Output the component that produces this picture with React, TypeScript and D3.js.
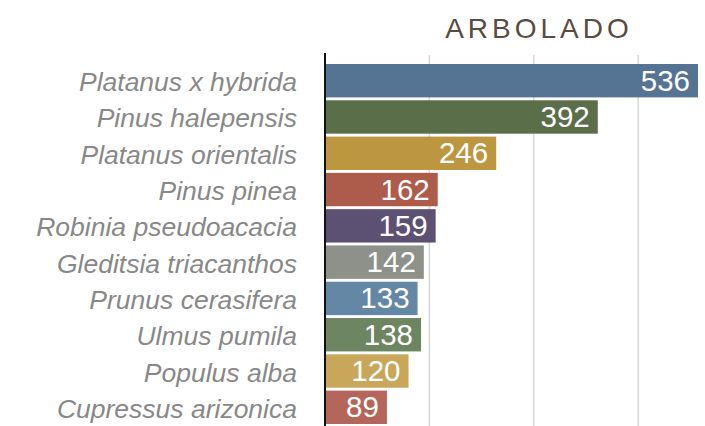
import React from 'react';
import * as d3 from 'd3';

const width = 705;
const height = 426;

const species = [
	'Platanus x hybrida',
	'Pinus halepensis',
	'Platanus orientalis',
	'Pinus pinea',
	'Robinia pseudoacacia',
	'Gleditsia triacanthos',
	'Prunus cerasifera',
	'Ulmus pumila',
	'Populus alba',
	'Cupressus arizonica',
];
const counts = [536, 392, 246, 162, 159, 142, 133, 138, 120, 89];
const colors = [
	'#557392',
	'#5b6e4a',
	'#bd973f',
	'#ad5b4b',
	'#5c5073',
	'#8e918a',
	'#6487a6',
	'#6d8560',
	'#c8a65a',
	'#b5665a',
];
const ticks = [150, 300, 450];
const title = 'ARBOLADO';

const margin = { top: 64, right: 7, bottom: 4, left: 325 };

const App = () => {
	const x = d3
		.scaleLinear()
		.domain([0, 536])
		.range([margin.left, 698]);
	const y = d3
		.scaleBand()
		.domain(species)
		.range([margin.top, 424])
		.paddingInner(0.08)
		.paddingOuter(0);

	return (
		<svg
			width={width}
			height={height}
			style={{ position: 'absolute', left: 0, top: 0, fontFamily: '"Liberation Sans", Arial, sans-serif' }}
		>
			<text
				x={537 + 2}
				y={38}
				textAnchor="middle"
				fill="#5b4b3f"
				fontSize={28}
				letterSpacing={4}
			>
				{title}
			</text>
			{ticks.map((t) => (
				<line key={t} x1={x(t)} x2={x(t)} y1={55} y2={height} stroke="#d6d6d6" strokeWidth={1.5} />
			))}
			{species.map((s, i) => (
				<g key={s}>
					<rect
						x={x(0)}
						y={y(s)}
						width={x(counts[i]) - x(0)}
						height={y.bandwidth()}
						fill={colors[i]}
					/>
					<text
						x={x(counts[i]) - 8}
						y={y(s)! + y.bandwidth() / 2}
						dy={10}
						textAnchor="end"
						fill="#fff"
						fontSize={29.5}
					>
						{counts[i]}
					</text>
					<text
						x={297}
						y={y(s)! + y.bandwidth() / 2}
						dy={10.5}
						textAnchor="end"
						fill="#888"
						fontSize={26.5}
						fontStyle="italic"
					>
						{s}
					</text>
				</g>
			))}
			<line x1={x(0)} x2={x(0)} y1={53} y2={height} stroke="#111" strokeWidth={2} />
		</svg>
	);
};

export default App;
